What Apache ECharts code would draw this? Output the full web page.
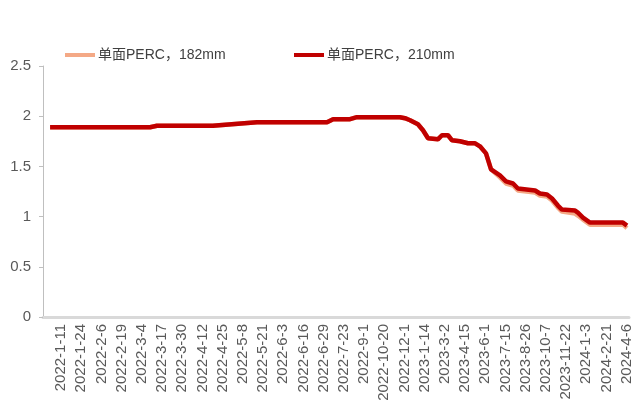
<!DOCTYPE html>
<html>
<head>
<meta charset="utf-8">
<script src="https://cdn.jsdelivr.net/npm/echarts@6/dist/echarts.min.js"></script>
<style>
  html, body { margin: 0; padding: 0; background: #fff; }
  #chart { width: 640px; height: 406px; }
</style>
</head>
<body>
<div id="chart"></div>
<script>
// Category tick labels along the bottom axis (one every 13 sampling points)
const tickLabels = [
  '2022-1-11', '2022-1-24', '2022-2-6', '2022-2-19', '2022-3-4', '2022-3-17',
  '2022-3-30', '2022-4-12', '2022-4-25', '2022-5-8', '2022-5-21', '2022-6-3',
  '2022-6-16', '2022-6-29', '2022-7-23', '2022-9-1', '2022-10-20', '2022-12-1',
  '2023-1-14', '2023-3-2', '2023-4-15', '2023-6-1', '2023-7-15', '2023-8-26',
  '2023-10-7', '2023-11-22', '2024-1-3', '2024-2-21', '2024-4-6'
];

// Positions of the price points, measured in tick-label steps
const xPos = [
  -0.54, 4.41, 4.75, 7.52, 9.70, 13.17, 13.47, 14.31, 14.65, 16.78,
  17.03, 17.28, 17.67, 17.92, 18.17, 18.66, 18.86, 19.16, 19.36, 19.75,
  20.15, 20.50, 20.74, 21.04, 21.29, 21.73, 22.03, 22.38, 22.62, 23.47,
  23.71, 24.06, 24.31, 24.60, 24.80, 25.45, 25.59, 25.84, 26.19, 27.82,
  28.02
];

// Mono-facial PERC module prices (元/W)
const perc210 = [
  1.89, 1.89, 1.905, 1.905, 1.94, 1.94, 1.97, 1.97, 1.99, 1.99,
  1.98, 1.96, 1.92, 1.86, 1.78, 1.77, 1.81, 1.81, 1.76, 1.75,
  1.73, 1.73, 1.70, 1.63, 1.47, 1.41, 1.35, 1.33, 1.28, 1.26,
  1.23, 1.22, 1.18, 1.11, 1.07, 1.06, 1.04, 0.99, 0.94, 0.94,
  0.91
];
const perc182 = [
  1.89, 1.89, 1.905, 1.905, 1.94, 1.94, 1.97, 1.97, 1.99, 1.99,
  1.98, 1.96, 1.92, 1.86, 1.78, 1.77, 1.81, 1.81, 1.76, 1.75,
  1.73, 1.73, 1.70, 1.63, 1.47, 1.39, 1.33, 1.31, 1.26, 1.24,
  1.21, 1.20, 1.16, 1.09, 1.05, 1.03, 1.01, 0.97, 0.92, 0.92,
  0.885
];

const seriesNames = ['单面PERC，182mm', '单面PERC，210mm'];
const tickIdx = tickLabels.map((_, i) => i);

const FONT = '"Liberation Sans", "Noto Sans CJK SC", sans-serif';
const chart = echarts.init(document.getElementById('chart'), null, { renderer: 'canvas' });

function legendAt(left, name) {
  return {
    left: left, top: 48, padding: 0, data: [name],
    icon: 'rect', itemWidth: 30, itemHeight: 4, itemGap: 0,
    textStyle: { color: '#404040', fontSize: 14, fontFamily: FONT, padding: [0, 0, 0, -2] }
  };
}

chart.setOption({
  animation: false,
  backgroundColor: '#ffffff',
  grid: { left: 43, right: 11, top: 66, bottom: 89, containLabel: false },
  legend: [legendAt(65, seriesNames[0]), legendAt(294, seriesNames[1])],
  xAxis: {
    type: 'value',
    min: -0.891,
    max: 28.12,
    splitLine: { show: false },
    axisTick: { show: false },
    axisLine: { show: true, onZero: false, lineStyle: { color: '#d9d9d9', width: 3 } },
    axisLabel: {
      customValues: tickIdx,
      rotate: 90,
      margin: 7,
      color: '#595959',
      fontSize: 15,
      fontFamily: FONT,
      formatter: v => tickLabels[Math.round(v)]
    }
  },
  yAxis: {
    type: 'value',
    min: 0,
    max: 2.5,
    interval: 0.5,
    splitLine: { show: false },
    axisLine: { show: true, onZero: false, lineStyle: { color: '#bfbfbf', width: 1 } },
    axisTick: { show: true, length: 4, lineStyle: { color: '#bfbfbf' } },
    axisLabel: { color: '#595959', fontSize: 15, fontFamily: FONT, margin: 12 }
  },
  series: [
    {
      name: seriesNames[0],
      type: 'line',
      showSymbol: false,
      itemStyle: { color: '#f4a986' },
      lineStyle: { color: '#f4a986', width: 4.5 },
      data: xPos.map((x, i) => [x, perc182[i]])
    },
    {
      name: seriesNames[1],
      type: 'line',
      showSymbol: false,
      itemStyle: { color: '#c00000' },
      lineStyle: { color: '#c00000', width: 4.5 },
      data: xPos.map((x, i) => [x, perc210[i]])
    }
  ]
});
</script>
</body>
</html>
